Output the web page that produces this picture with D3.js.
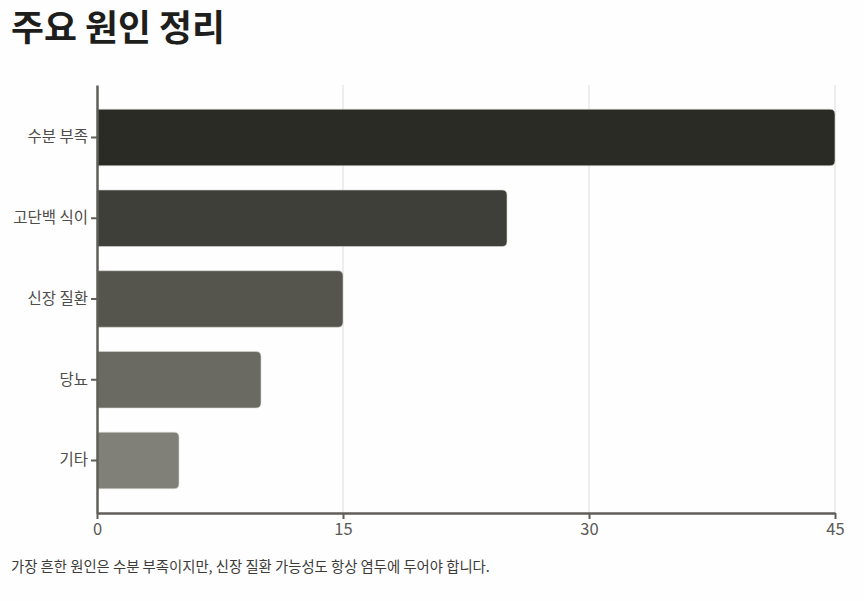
<!DOCTYPE html>
<html><head><meta charset="utf-8">
<script src="https://cdn.jsdelivr.net/npm/d3@7"></script>
<style>
body{margin:0;background:#fefefe;font-family:"Noto Sans CJK KR","Noto Sans",sans-serif;}
</style></head>
<body>
<svg id="c" width="864" height="601"></svg>
<script>
const categories = ["수분 부족","고단백 식이","신장 질환","당뇨","기타"];
const values = [45,25,15,10,5];
const colors = ["#2b2b26","#3f3f3a","#55554e","#6b6a62","#807f78"];
const xTicks = [0,15,30,45];
const title = "주요 원인 정리";
const caption = "가장 흔한 원인은 수분 부족이지만, 신장 질환 가능성도 항상 염두에 두어야 합니다.";

const svg = d3.select("#c");
const m = {l:97, r:29, t:85, b:88};
const W = 864, H = 601;
const x = d3.scaleLinear().domain([0,45]).range([m.l, W-m.r]);
const y = d3.scaleBand().domain(categories).range([m.t, H-m.b]).padding(0.3);

svg.append("text").attr("x",11).attr("y",41).attr("font-size",35.8).attr("font-weight",700)
  .attr("fill","#1e1e1c").text(title);

svg.append("g").selectAll("line").data(xTicks.slice(1)).join("line")
  .attr("x1",d=>x(d)).attr("x2",d=>x(d)).attr("y1",m.t).attr("y2",H-m.b)
  .attr("stroke","#dddddd").attr("stroke-width",1);

const r = 5;
svg.append("g").selectAll("path").data(categories).join("path")
  .attr("d",(c,i)=>{
    const x0=x(0), x1=x(values[i]), y0=y(c), h=y.bandwidth();
    return `M${x0},${y0}H${x1-r}Q${x1},${y0} ${x1},${y0+r}V${y0+h-r}Q${x1},${y0+h} ${x1-r},${y0+h}H${x0}Z`;
  })
  .attr("fill",(c,i)=>colors[i]).attr("stroke","#d6d6d2").attr("stroke-width",0.6);

const gy = svg.append("g").attr("transform",`translate(${m.l},0)`)
  .call(d3.axisLeft(y).tickSize(6).tickSizeOuter(0).tickPadding(3));
const gx = svg.append("g").attr("transform",`translate(0,${H-m.b})`)
  .call(d3.axisBottom(x).tickValues(xTicks).tickSize(6).tickSizeOuter(0).tickPadding(4));
[gx,gy].forEach(g=>{
  g.select(".domain").attr("stroke","#5f5e58").attr("stroke-width",2.5);
  g.selectAll(".tick line").attr("stroke","#5f5e58").attr("stroke-width",2);
  g.selectAll(".tick text").attr("fill","#4e4d49").attr("font-family","'Noto Sans CJK KR',sans-serif");
});
gy.selectAll(".tick text").attr("font-size",15.5);
gx.selectAll(".tick text").attr("font-size",16.5).attr("fill","#5a5955");

svg.append("text").attr("x",11).attr("y",572).attr("font-size",14.35).attr("fill","#3c3b38").text(caption);
</script>
</body></html>
